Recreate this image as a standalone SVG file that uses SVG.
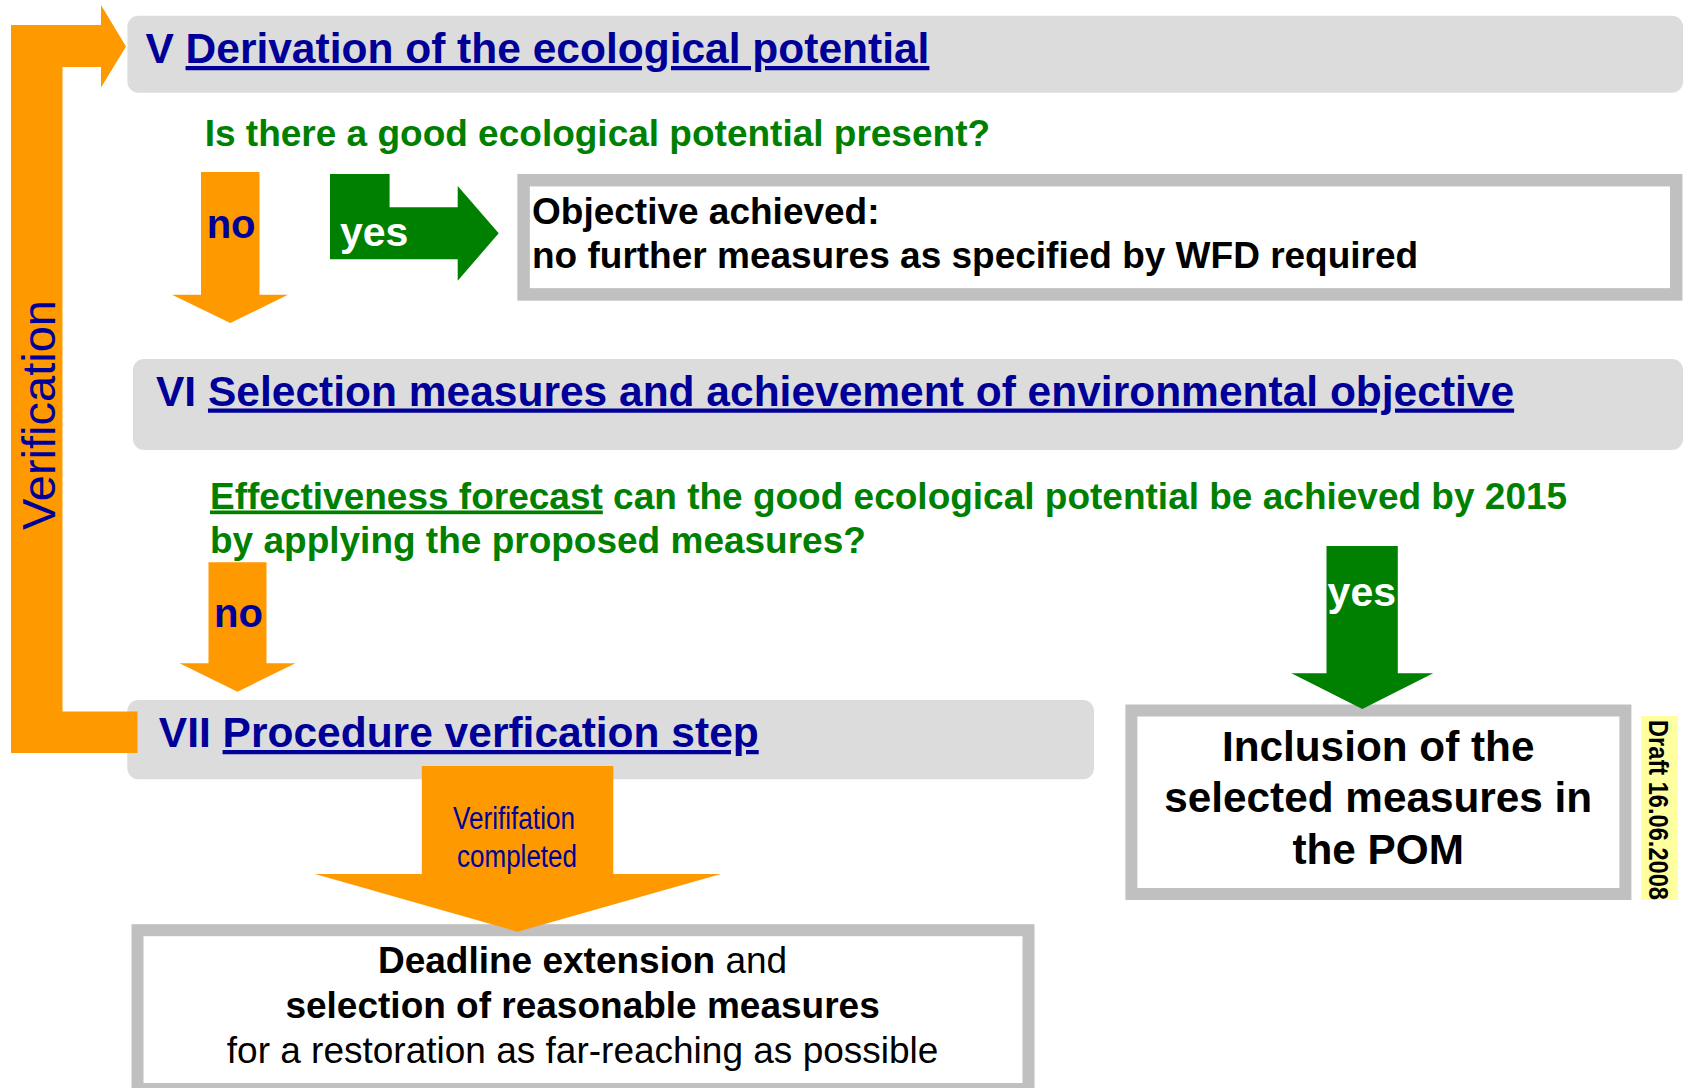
<svg xmlns="http://www.w3.org/2000/svg" width="1685" height="1088" viewBox="0 0 1685 1088">
<style>
  text{font-family:"Liberation Sans",Arial,Helvetica,sans-serif}
  .hdr{fill:#dcdcdc}
  .title{font-weight:bold;font-size:42.5px;fill:#000099}
  .u{text-decoration:underline}
  .q{font-weight:bold;font-size:37px;fill:#008000}
  .box{fill:#ffffff;stroke:#c0c0c0}
  .orange{fill:#ff9900}
  .green{fill:#008000}
  .nolbl{font-weight:bold;font-size:40px;fill:#000099}
  .yeslbl{font-weight:bold;font-size:41px;fill:#ffffff}
  .body{font-size:37px;fill:#000000}
  .b{font-weight:bold}
  .big{font-weight:bold;font-size:42.3px;fill:#000000;text-anchor:middle}
</style>
<rect width="1685" height="1088" fill="#ffffff"/>

<g id="node-V">
  <rect class="hdr" x="127.4" y="15.7" width="1555.6" height="77" rx="11"/>
  <text class="title" x="145.4" y="63">V <tspan class="u">Derivation of the ecological potential</tspan></text>
</g>
<g id="question-V">
  <text class="q" x="204.7" y="146">Is there a good ecological potential present?</text>
</g>
<g id="node-objective">
  <rect class="box" x="523.6" y="180.2" width="1152.6" height="114.2" stroke-width="12.5"/>
  <text class="body b" x="532" y="223.5">Objective achieved:</text>
  <text class="body b" x="532" y="268">no further measures as specified by WFD required</text>
</g>
<g id="node-VI">
  <rect class="hdr" x="133" y="359" width="1550" height="91" rx="11"/>
  <text class="title" x="156" y="405.5">VI <tspan class="u">Selection measures and achievement of environmental objective</tspan></text>
</g>
<g id="question-VI">
  <text class="q" x="210" y="508.5"><tspan class="u">Effectiveness forecast</tspan> can the good ecological potential be achieved by 2015</text>
  <text class="q" x="210" y="552.5">by applying the proposed measures?</text>
</g>
<g id="node-VII">
  <rect class="hdr" x="127.3" y="700" width="966.7" height="79.3" rx="11"/>
  <text class="title" x="158.8" y="747">VII <tspan class="u">Procedure verfication step</tspan></text>
</g>
<g id="node-deadline">
  <rect class="box" x="137.5" y="930.2" width="891" height="158.8" stroke-width="12"/>
  <text class="body" x="582.6" y="972.7" text-anchor="middle"><tspan class="b">Deadline extension</tspan> and</text>
  <text class="body b" x="582.6" y="1017.7" text-anchor="middle">selection of reasonable measures</text>
  <text class="body" x="582.6" y="1062.7" text-anchor="middle">for a restoration as far-reaching as possible</text>
</g>
<g id="node-inclusion">
  <rect class="box" x="1131.4" y="710.5" width="494" height="183.5" stroke-width="12"/>
  <text class="big" x="1378.2" y="761">Inclusion of the</text>
  <text class="big" x="1378.2" y="812">selected measures in</text>
  <text class="big" x="1378.2" y="864">the POM</text>
</g>
<g id="draft-label">
  <rect x="1641" y="716" width="37" height="184" fill="#ffffa0"/>
  <text transform="translate(1648.5,720) rotate(90)" font-weight="bold" font-size="27" fill="#000000" textLength="180" lengthAdjust="spacingAndGlyphs">Draft 16.06.2008</text>
</g>

<g id="connectors">
  <g id="verification-loop">
    <polygon class="orange" points="11,25 101,25 101,5 126,46.5 101,87.5 101,67 62.5,67 62.5,711.5 137.5,711.5 137.5,753 11,753"/>
    <text transform="translate(55,530) rotate(-90)" font-size="47" fill="#000099">Verification</text>
  </g>
  <g id="arrow-V-no">
    <polygon class="orange" points="201,172 259.5,172 259.5,294.7 288,294.7 230.3,323 172,294.7 201,294.7"/>
    <text class="nolbl" x="206.7" y="238.3">no</text>
  </g>
  <g id="arrow-V-yes">
    <polygon class="green" points="330,174 389.6,174 389.6,207.3 457.7,207.3 457.7,186 498.7,233.3 457.7,280.7 457.7,259.3 330,259.3"/>
    <text class="yeslbl" x="340" y="246">yes</text>
  </g>
  <g id="arrow-VI-no">
    <polygon class="orange" points="208.5,562.3 266.5,562.3 266.5,663.3 295.5,663.3 237.5,691.7 179.5,663.3 208.5,663.3"/>
    <text class="nolbl" x="214" y="627">no</text>
  </g>
  <g id="arrow-VI-yes">
    <polygon class="green" points="1326.5,546 1397.8,546 1397.8,673.3 1433.2,673.3 1362.3,709 1291.4,673.3 1326.5,673.3"/>
    <text class="yeslbl" x="1327.6" y="606">yes</text>
  </g>
  <g id="arrow-VII-completed">
    <polygon class="orange" points="421.8,766 613.3,766 613.3,874 721,874 517.5,931.7 315,874 421.8,874"/>
    <text x="514" y="829" font-size="31" fill="#000099" text-anchor="middle" textLength="122" lengthAdjust="spacingAndGlyphs">Verififation</text>
    <text x="517" y="867" font-size="31" fill="#000099" text-anchor="middle" textLength="120" lengthAdjust="spacingAndGlyphs">completed</text>
  </g>
</g>
</svg>
